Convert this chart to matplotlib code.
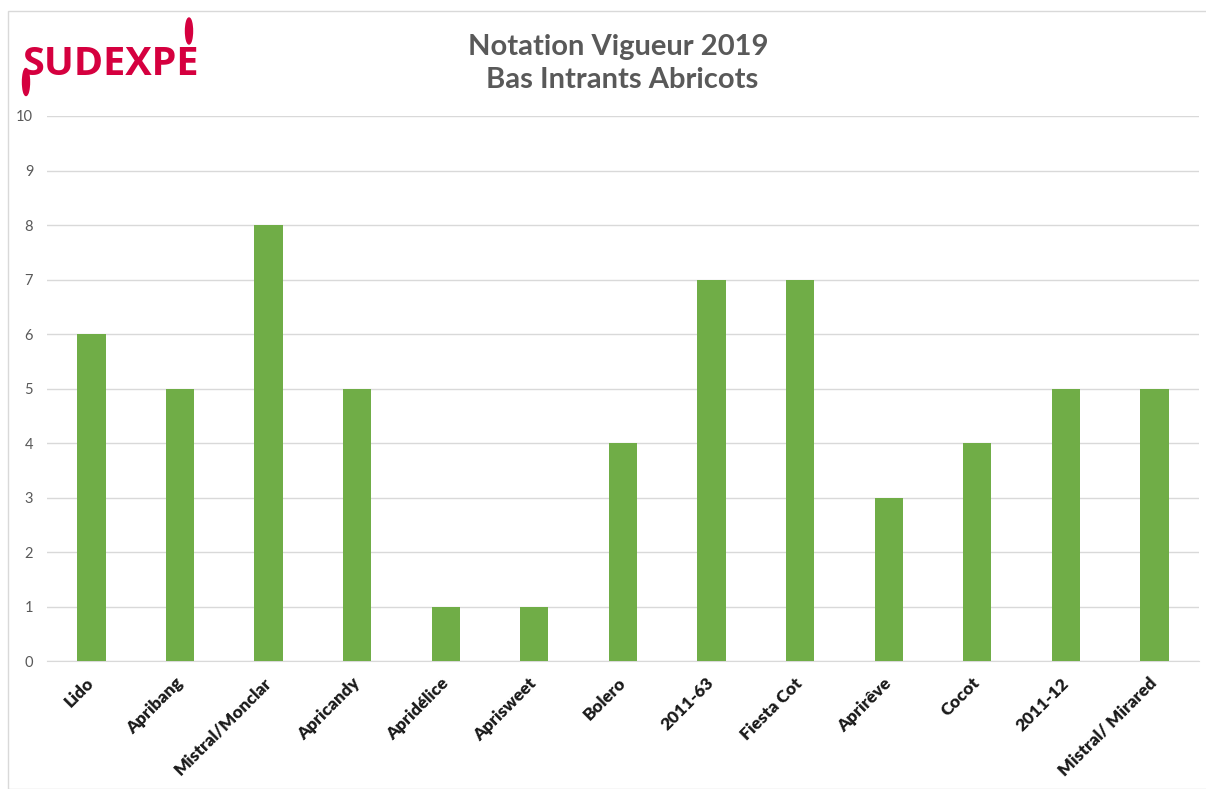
import matplotlib.pyplot as plt
from matplotlib.patches import Ellipse, Rectangle

varieties = ['Lido', 'Apribang', 'Mistral/Monclar', 'Apricandy', 'Apridélice',
             'Aprisweet', 'Bolero', '2011-63', 'Fiesta Cot', 'Aprirêve',
             'Cocot', '2011-12', 'Mistral/ Mirared']
vigueur = [6, 5, 8, 5, 1, 1, 4, 7, 7, 3, 4, 5, 5]
yticks = list(range(0, 11))

plt.rcParams['font.family'] = ['Lato', 'DejaVu Sans']

fig = plt.figure(figsize=(12.06, 7.89), dpi=100)
ax = fig.add_axes([0.039, 0.162, 0.955, 0.691])

x = range(len(varieties))
ax.bar(x, vigueur, width=0.32, color='#70AD47', zorder=3)
ax.set_xlim(-0.5, len(varieties) - 0.5)
ax.set_ylim(0, 10)
ax.set_yticks(yticks)
ax.yaxis.grid(True, color='#D9D9D9', linewidth=1, zorder=0)
ax.tick_params(axis='y', length=0, labelsize=10.5, labelcolor='#595959', pad=10)
ax.tick_params(axis='x', length=0, pad=14)
ax.set_xticks(list(x))
ax.set_xticklabels(varieties, rotation=45, ha='right', va='center',
                   rotation_mode='anchor', fontsize=12.5, fontweight='heavy',
                   color='#1a1a1a')
for side in ['left', 'right', 'top']:
    ax.spines[side].set_visible(False)
ax.spines['bottom'].set_color('#D9D9D9')

fig.text(0.513, 0.941, 'Notation Vigueur 2019', ha='center', va='center',
         fontsize=21, fontweight='bold', color='#595959')
fig.text(0.516, 0.898, 'Bas Intrants Abricots', ha='center', va='center',
         fontsize=21, fontweight='bold', color='#595959')

# logo
logo = '#D5003F'
fig.text(0.018, 0.918, 'SUDEXPE', ha='left', va='center', fontsize=28.5,
         fontweight='bold', color=logo, family=['Open Sans', 'DejaVu Sans'])
fig.patches.append(Ellipse((189 / 1206, 1 - 31 / 789), 7 / 1206, 26 / 789,
                           transform=fig.transFigure, color=logo))
fig.patches.append(Ellipse((26 / 1206, 1 - 82 / 789), 7 / 1206, 27 / 789,
                           transform=fig.transFigure, color=logo))

# frame
fig.patches.append(Rectangle((8 / 1206, 0), 1.2, 1 - 11 / 789, fill=False,
                             edgecolor='#D9D9D9', linewidth=1,
                             transform=fig.transFigure))

fig.savefig('out.png', dpi=100)
